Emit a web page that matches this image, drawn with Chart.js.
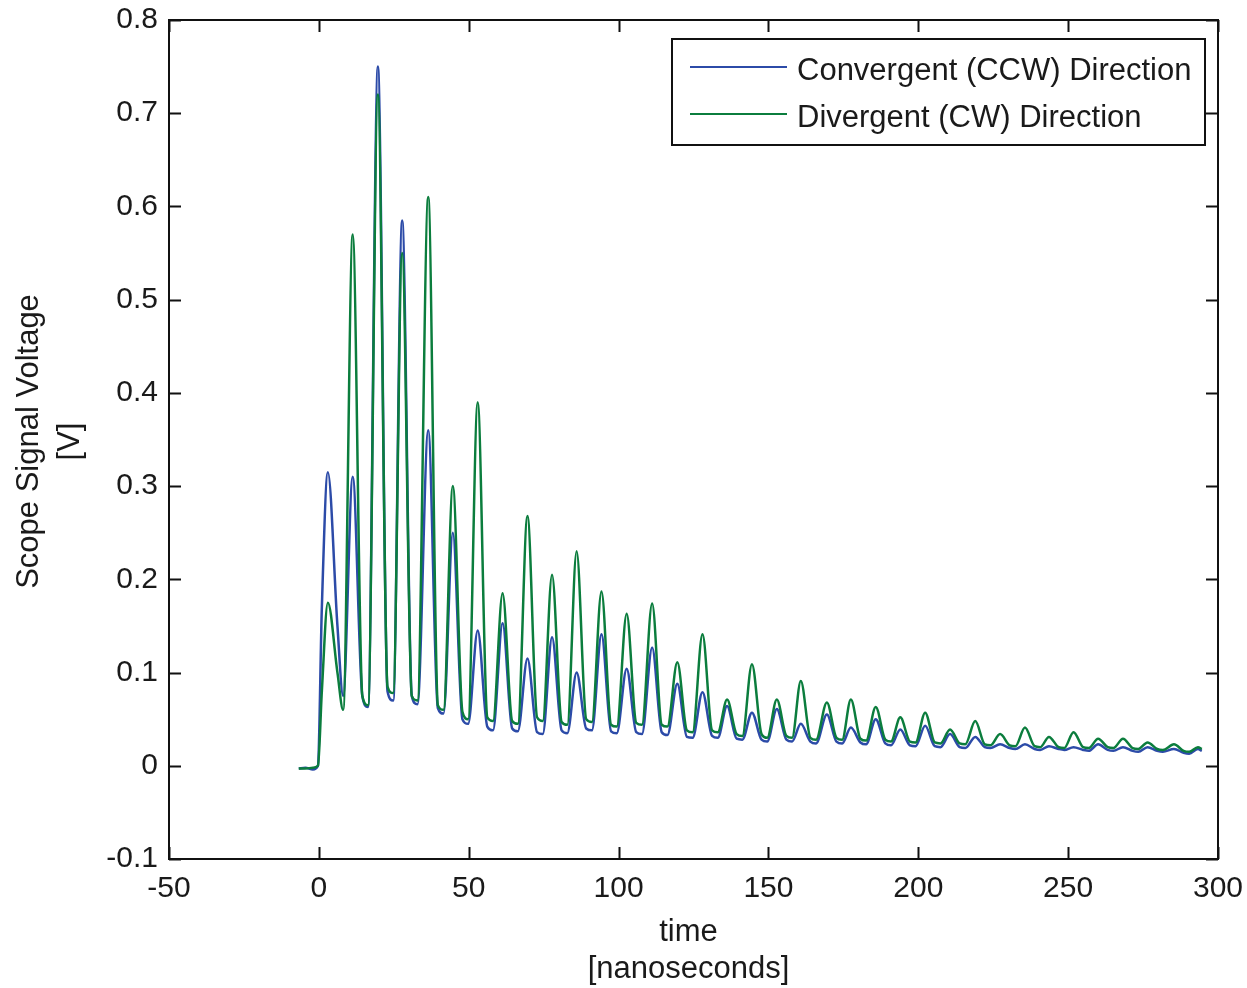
<!DOCTYPE html>
<html>
<head>
<meta charset="utf-8">
<script src="https://cdn.jsdelivr.net/npm/chart.js@4/dist/chart.umd.min.js"></script>
<style>
  html, body { margin: 0; padding: 0; background: #fff; }
  canvas { display: block; }
</style>
</head>
<body>
<canvas id="grafico" width="1247" height="988"></canvas>
<script>
// time axis in ns (peak, then two trough points per cycle)
const timeNs = [
  -6.7, -4.5, -2.0, -0.3, 1.0,
  3.0, 6.2, 8.1,
  11.3, 14.5, 16.4,
  19.7, 22.9, 24.8,
  27.8, 31.0, 32.9,
  36.5, 39.7, 41.6,
  44.7, 47.9, 49.8,
  53.0, 56.2, 58.1,
  61.3, 64.5, 66.4,
  69.6, 72.8, 74.7,
  77.8, 81.0, 82.9,
  86.0, 89.2, 91.1,
  94.3, 97.5, 99.4,
  102.7, 105.9, 107.8,
  111.2, 114.4, 116.3,
  119.6, 122.8, 124.7,
  128.0, 131.2, 133.1,
  136.2, 139.4, 141.3,
  144.5, 147.7, 149.6,
  152.8, 156.0, 157.9,
  160.8, 164.0, 165.9,
  169.5, 172.7, 174.6,
  177.5, 180.7, 182.6,
  185.8, 189.0, 190.9,
  194.0, 197.2, 199.1,
  202.3, 205.5, 207.4,
  210.6, 213.8, 215.7,
  219.0, 222.2, 224.1,
  227.3, 230.5, 232.4,
  235.6, 238.8, 240.7,
  243.6, 246.8, 248.7,
  251.8, 255.0, 256.9,
  260.0, 263.2, 265.1,
  268.3, 271.5, 273.4,
  276.5, 279.7, 281.6,
  285.3, 288.5, 290.4,
  293.3, 294.6
];

const convergentV = [
  -0.003, -0.002, -0.004, 0.0, 0.17,
  0.315, 0.15, 0.075,
  0.31, 0.075, 0.063,
  0.75, 0.08, 0.07,
  0.585, 0.075, 0.066,
  0.36, 0.062, 0.056,
  0.25, 0.05, 0.045,
  0.145, 0.042, 0.038,
  0.153, 0.04, 0.037,
  0.115, 0.036, 0.034,
  0.138, 0.038, 0.035,
  0.10, 0.04, 0.038,
  0.141, 0.037, 0.035,
  0.104, 0.036, 0.034,
  0.127, 0.036, 0.033,
  0.088, 0.031, 0.03,
  0.079, 0.032, 0.03,
  0.064, 0.029, 0.028,
  0.057, 0.028, 0.026,
  0.061, 0.028, 0.026,
  0.045, 0.026, 0.024,
  0.055, 0.026, 0.024,
  0.041, 0.025, 0.023,
  0.05, 0.024, 0.022,
  0.039, 0.022, 0.021,
  0.043, 0.021, 0.02,
  0.034, 0.02, 0.019,
  0.031, 0.02, 0.019,
  0.023, 0.019, 0.018,
  0.023, 0.018, 0.017,
  0.021, 0.018, 0.017,
  0.02, 0.017, 0.016,
  0.023, 0.017, 0.016,
  0.02, 0.016, 0.015,
  0.02, 0.016, 0.015,
  0.018, 0.014, 0.013,
  0.018, 0.016
];

const divergentV = [
  -0.003, -0.003, -0.002, 0.0, 0.08,
  0.175, 0.10, 0.06,
  0.57, 0.075, 0.065,
  0.72, 0.085, 0.078,
  0.55, 0.075, 0.07,
  0.61, 0.065, 0.06,
  0.30, 0.058, 0.05,
  0.39, 0.052, 0.048,
  0.185, 0.048, 0.045,
  0.268, 0.052, 0.048,
  0.205, 0.047, 0.044,
  0.23, 0.05, 0.047,
  0.187, 0.044, 0.042,
  0.163, 0.046, 0.044,
  0.174, 0.044, 0.042,
  0.111, 0.038, 0.036,
  0.141, 0.038, 0.036,
  0.071, 0.034, 0.032,
  0.109, 0.034, 0.03,
  0.071, 0.032, 0.03,
  0.091, 0.03, 0.028,
  0.068, 0.03, 0.028,
  0.071, 0.029, 0.027,
  0.063, 0.028, 0.026,
  0.052, 0.026, 0.025,
  0.057, 0.025, 0.024,
  0.039, 0.024, 0.023,
  0.048, 0.023, 0.022,
  0.034, 0.022, 0.021,
  0.041, 0.021, 0.02,
  0.031, 0.02, 0.019,
  0.036, 0.02, 0.019,
  0.029, 0.02, 0.019,
  0.029, 0.019, 0.018,
  0.025, 0.018, 0.017,
  0.023, 0.016, 0.015,
  0.02, 0.018
];

const nombresSeries = ['Convergent (CCW) Direction', 'Divergent (CW) Direction'];
const coloresSeries = ['#2c4ba8', '#0b7d3d'];
const tituloX = ['time', '[nanoseconds]'];
const tituloY = ['Scope Signal Voltage', '[V]'];

const fuente = "'Liberation Sans', Arial, sans-serif";

function puntos(valores) {
    return timeNs.map((t, i) => ({ x: t, y: valores[i] }));
}

// axes box, inward ticks, titles and legend, MATLAB style
const marcoPlugin = {
    id: 'marco',
    afterDraw(chart) {
        const ctx = chart.ctx;
        const area = chart.chartArea;
        const sx = chart.scales.x;
        const sy = chart.scales.y;
        const largo = 12;

        ctx.save();
        ctx.strokeStyle = '#111';
        ctx.lineWidth = 2;
        ctx.beginPath();
        sx.ticks.forEach(tk => {
            const px = Math.round(sx.getPixelForValue(tk.value)) + 0.5;
            ctx.moveTo(px, area.bottom);
            ctx.lineTo(px, area.bottom - largo);
            ctx.moveTo(px, area.top);
            ctx.lineTo(px, area.top + largo);
        });
        sy.ticks.forEach(tk => {
            const py = Math.round(sy.getPixelForValue(tk.value)) + 0.5;
            ctx.moveTo(area.left, py);
            ctx.lineTo(area.left + largo, py);
            ctx.moveTo(area.right, py);
            ctx.lineTo(area.right - largo, py);
        });
        ctx.stroke();
        ctx.strokeRect(area.left, area.top, area.right - area.left, area.bottom - area.top);

        // axis titles
        ctx.fillStyle = '#1a1a1a';
        ctx.font = '31px ' + fuente;
        ctx.textAlign = 'center';
        ctx.textBaseline = 'alphabetic';
        const cx = (area.left + area.right) / 2 - 5;
        ctx.fillText(tituloX[0], cx, 941);
        ctx.fillText(tituloX[1], cx, 978);

        const cy = (area.top + area.bottom) / 2 + 2;
        ctx.save();
        ctx.translate(38, cy);
        ctx.rotate(-Math.PI / 2);
        ctx.fillText(tituloY[0], 0, 0);
        ctx.restore();
        ctx.save();
        ctx.translate(79, cy);
        ctx.rotate(-Math.PI / 2);
        ctx.fillText(tituloY[1], 0, 0);
        ctx.restore();

        // legend
        const lx = 672, ly = 39, lw = 533, lh = 106;
        ctx.fillStyle = '#fff';
        ctx.fillRect(lx, ly, lw, lh);
        ctx.strokeStyle = '#111';
        ctx.lineWidth = 2;
        ctx.strokeRect(lx, ly, lw, lh);
        const filas = [67, 114];
        ctx.textAlign = 'left';
        nombresSeries.forEach((nombre, i) => {
            ctx.strokeStyle = coloresSeries[i];
            ctx.beginPath();
            ctx.moveTo(690, filas[i]);
            ctx.lineTo(787, filas[i]);
            ctx.stroke();
            ctx.fillStyle = '#1a1a1a';
            ctx.fillText(nombre, 797, filas[i] + 13);
        });
        ctx.restore();
    }
};

new Chart(document.getElementById('grafico'), {
    type: 'line',
    data: {
        datasets: [
            {
                label: nombresSeries[0],
                data: puntos(convergentV),
                borderColor: coloresSeries[0],
                borderWidth: 2.5,
                pointRadius: 0,
                cubicInterpolationMode: 'monotone',
                order: 2
            },
            {
                label: nombresSeries[1],
                data: puntos(divergentV),
                borderColor: coloresSeries[1],
                borderWidth: 2.5,
                pointRadius: 0,
                cubicInterpolationMode: 'monotone',
                order: 1
            }
        ]
    },
    options: {
        responsive: false,
        animation: false,
        devicePixelRatio: 1,
        layout: { padding: { top: 20, right: 29, left: 0, bottom: 0 } },
        plugins: {
            legend: { display: false },
            tooltip: { enabled: false },
            title: { display: false }
        },
        scales: {
            x: {
                type: 'linear',
                min: -50,
                max: 300,
                grid: { display: false, drawTicks: false },
                border: { display: false },
                ticks: {
                    stepSize: 50,
                    padding: 12,
                    color: '#1a1a1a',
                    font: { family: fuente, size: 30 },
                    maxRotation: 0
                },
                afterFit(scale) {
                    scale.height = 129;
                    scale.paddingLeft = 0;
                    scale.paddingRight = 0;
                }
            },
            y: {
                type: 'linear',
                min: -0.1,
                max: 0.8,
                grid: { display: false, drawTicks: false },
                border: { display: false },
                ticks: {
                    stepSize: 0.1,
                    padding: 11,
                    color: '#1a1a1a',
                    font: { family: fuente, size: 30 },
                    callback: v => String(Math.round(v * 10) / 10)
                },
                afterFit(scale) {
                    scale.width = 169;
                    scale.paddingTop = 0;
                    scale.paddingBottom = 0;
                }
            }
        }
    },
    plugins: [marcoPlugin]
});
</script>
</body>
</html>
